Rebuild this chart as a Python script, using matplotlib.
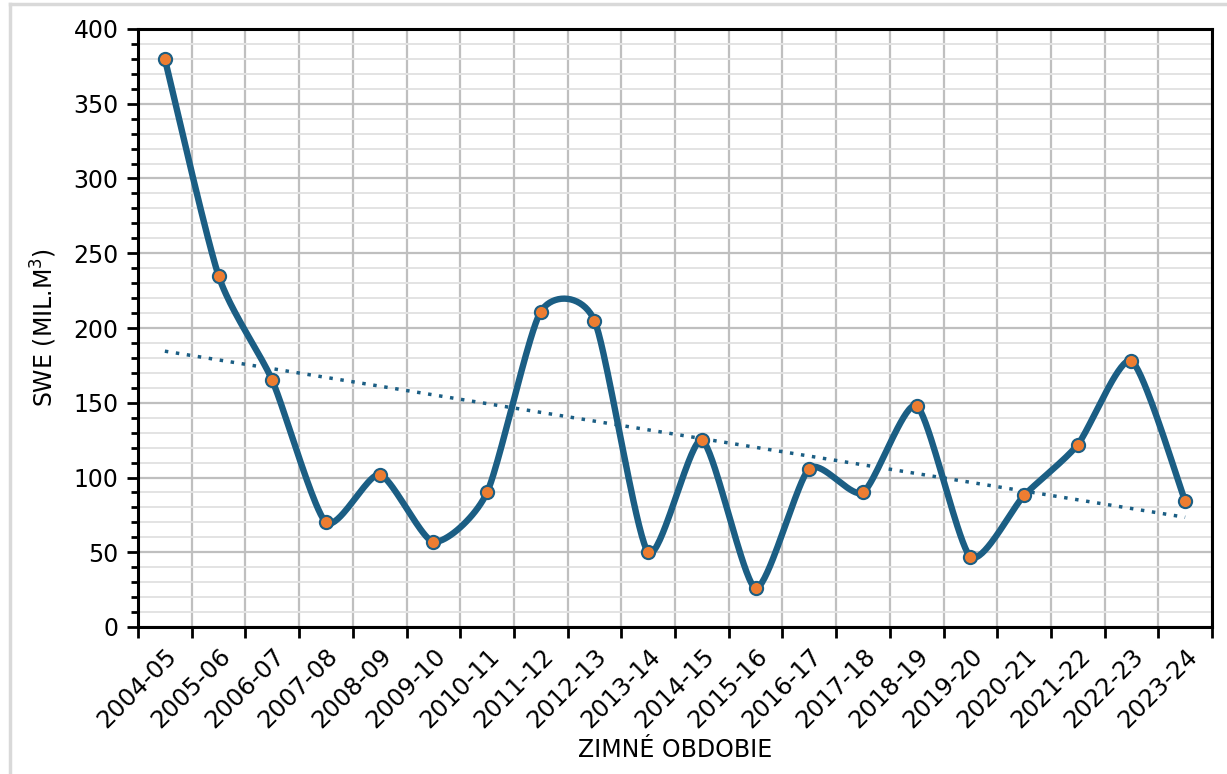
import numpy as np
import matplotlib.pyplot as plt
from matplotlib.lines import Line2D
from matplotlib.ticker import MultipleLocator

seasons = ["2004-05", "2005-06", "2006-07", "2007-08", "2008-09", "2009-10",
           "2010-11", "2011-12", "2012-13", "2013-14", "2014-15", "2015-16",
           "2016-17", "2017-18", "2018-19", "2019-20", "2020-21", "2021-22",
           "2022-23", "2023-24"]
swe = [380, 235, 165, 70, 102, 57, 90, 211, 205, 50,
       125, 26, 106, 90, 148, 47, 88, 122, 178, 84]

blue = "#1b5e84"
orange = "#ed7d31"


def smooth(x, y, n=40, k=9.0):
    # excel-ish smoothed line: cardinal spline through every point
    x = np.asarray(x, float)
    y = np.asarray(y, float)
    px = np.concatenate([[x[0]], x, [x[-1]]])
    py = np.concatenate([[y[0]], y, [y[-1]]])
    xs, ys = [], []
    for i in range(1, len(px) - 2):
        t = np.linspace(0, 1, n, endpoint=False)
        p0, p1, p2, p3 = (np.array([px[j], py[j]]) for j in range(i - 1, i + 3))
        c1 = p1 + (p2 - p0) / k
        c2 = p2 - (p3 - p1) / k
        b = ((1 - t) ** 3)[:, None] * p1 + (3 * (1 - t) ** 2 * t)[:, None] * c1 \
            + (3 * (1 - t) * t ** 2)[:, None] * c2 + (t ** 3)[:, None] * p2
        xs.append(b[:, 0])
        ys.append(b[:, 1])
    xs.append([x[-1]])
    ys.append([y[-1]])
    return np.concatenate(xs), np.concatenate(ys)


x = np.arange(len(seasons))
fig = plt.figure(figsize=(12.27, 7.74), dpi=100)
ax = fig.add_axes([138 / 1227, 1 - 627 / 774, (1212 - 138) / 1227, (627 - 29) / 774])

sx, sy = smooth(x, swe)
ax.plot(sx, sy, color=blue, lw=4.6, solid_capstyle="round", zorder=3)
ax.plot(x, swe, "o", ms=9.5, mfc=orange, mec=blue, mew=1.5, zorder=4)

k, c = np.polyfit(x, swe, 1)
ax.plot([x[0], x[-1]], [k * x[0] + c, k * x[-1] + c], color=blue, lw=2.5,
        ls=(0, (1, 2.2)), zorder=2)

ax.set_xlim(-0.5, len(seasons) - 0.5)
ax.set_ylim(0, 400)

ax.set_xticks(x)
ax.set_xticklabels(seasons, rotation=45, ha="right", rotation_mode="anchor", fontsize=17.5)
ax.set_xticks(np.arange(len(seasons) + 1) - 0.5, minor=True)
ax.tick_params(axis="x", which="major", length=0, pad=12)
ax.tick_params(axis="x", which="minor", length=8, width=2, direction="out")

ax.yaxis.set_major_locator(MultipleLocator(50))
ax.yaxis.set_minor_locator(MultipleLocator(10))
ax.tick_params(axis="y", which="major", length=8, width=2, labelsize=17, pad=6)
ax.tick_params(axis="y", which="minor", length=5, width=2)

ax.grid(axis="x", which="minor", color="#bfbfbf", lw=1.6)
ax.grid(axis="y", which="major", color="#bfbfbf", lw=1.6)
ax.grid(axis="y", which="minor", color="#e3e3e3", lw=1.4)
ax.set_axisbelow(True)
for s in ax.spines.values():
    s.set_linewidth(2.2)
    s.set_color("black")

ax.set_xlabel("ZIMNÉ OBDOBIE", fontsize=17, labelpad=4)
ax.set_ylabel("SWE (MIL.M$^3$)", fontsize=17, labelpad=10)

# light frame around the chart area
fig.add_artist(Line2D([10 / 1227, 1], [1 - 4 / 774, 1 - 4 / 774], color="#d9d9d9", lw=2.5,
                      transform=fig.transFigure))
fig.add_artist(Line2D([10 / 1227, 10 / 1227], [0, 1 - 4 / 774], color="#d9d9d9", lw=2.5,
                      transform=fig.transFigure))

fig.savefig("out.png", dpi=100)
